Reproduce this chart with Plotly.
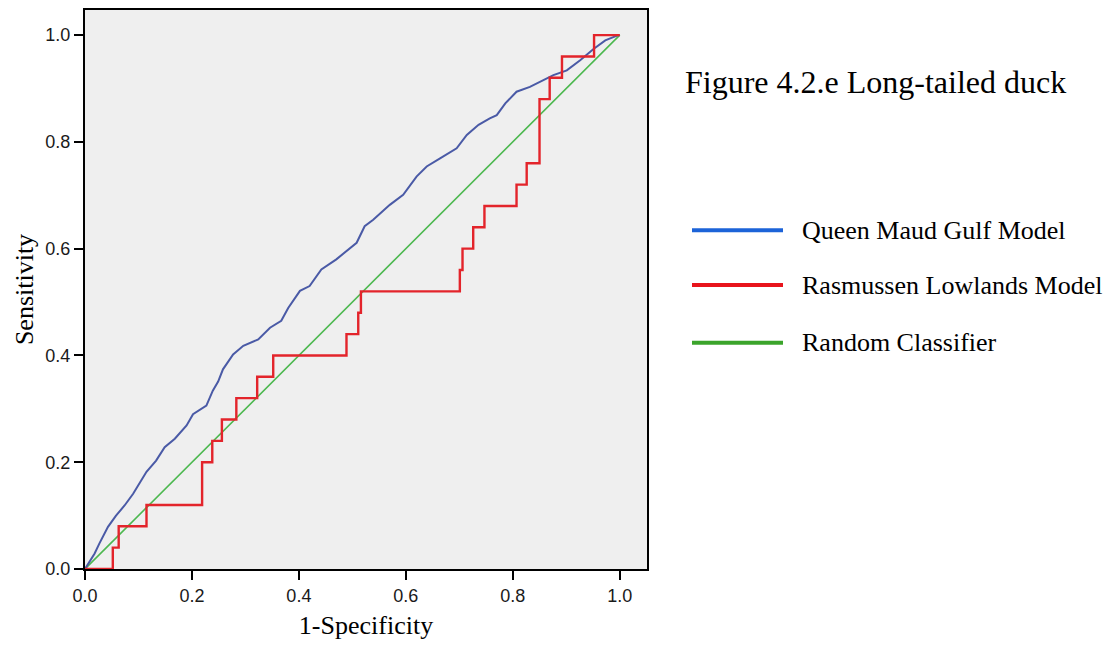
import plotly.graph_objects as go

# ---- data ----
qmg_fpr = [0.0, 0.018, 0.027, 0.043, 0.058, 0.074, 0.090, 0.105, 0.115, 0.133, 0.149, 0.168,
           0.190, 0.202, 0.227, 0.239, 0.249, 0.258, 0.277, 0.296, 0.324, 0.346, 0.367, 0.380,
           0.402, 0.420, 0.442, 0.470, 0.489, 0.508, 0.523, 0.539, 0.570, 0.595, 0.620, 0.639,
           0.664, 0.695, 0.714, 0.736, 0.757, 0.770, 0.786, 0.807, 0.832, 0.857, 0.876, 0.901,
           0.926, 0.951, 0.973, 0.995, 1.0]
qmg_tpr = [0.0, 0.029, 0.048, 0.079, 0.100, 0.119, 0.141, 0.166, 0.182, 0.203, 0.228, 0.244,
           0.269, 0.290, 0.306, 0.334, 0.351, 0.374, 0.402, 0.418, 0.430, 0.452, 0.465, 0.489,
           0.521, 0.530, 0.561, 0.580, 0.595, 0.611, 0.642, 0.654, 0.682, 0.701, 0.735, 0.754,
           0.769, 0.788, 0.813, 0.832, 0.844, 0.850, 0.872, 0.894, 0.903, 0.915, 0.925, 0.934,
           0.953, 0.974, 0.990, 0.999, 1.0]

rl_fpr = [0.0, 0.052, 0.052, 0.063, 0.063, 0.115, 0.115, 0.219, 0.219, 0.238, 0.238, 0.256,
          0.256, 0.283, 0.283, 0.322, 0.322, 0.352, 0.352, 0.489, 0.489, 0.511, 0.511, 0.516,
          0.516, 0.701, 0.701, 0.706, 0.706, 0.726, 0.726, 0.747, 0.747, 0.807, 0.807, 0.826,
          0.826, 0.850, 0.850, 0.869, 0.869, 0.892, 0.892, 0.952, 0.952, 1.0]
rl_tpr = [0.0, 0.0, 0.04, 0.04, 0.08, 0.08, 0.12, 0.12, 0.20, 0.20, 0.24, 0.24,
          0.28, 0.28, 0.32, 0.32, 0.36, 0.36, 0.40, 0.40, 0.44, 0.44, 0.48, 0.48,
          0.52, 0.52, 0.56, 0.56, 0.60, 0.60, 0.64, 0.64, 0.68, 0.68, 0.72, 0.72,
          0.76, 0.76, 0.88, 0.88, 0.92, 0.92, 0.96, 0.96, 1.0, 1.0]

rand_x = [0.0, 1.0]
rand_y = [0.0, 1.0]

tick_vals = [0.0, 0.2, 0.4, 0.6, 0.8, 1.0]
tick_text = ["0.0", "0.2", "0.4", "0.6", "0.8", "1.0"]

series_names = ["Queen Maud Gulf Model", "Rasmussen Lowlands Model", "Random Classifier"]
legend_colors = ["#1c63d8", "#e8141c", "#3ba42b"]
title_text = "Figure 4.2.e Long-tailed duck"

# ---- figure ----
fig = go.Figure()
fig.add_trace(go.Scatter(x=rand_x, y=rand_y, mode="lines",
                         line=dict(color="#4cb84f", width=1.6), name=series_names[2], showlegend=False))
fig.add_trace(go.Scatter(x=qmg_fpr, y=qmg_tpr, mode="lines",
                         line=dict(color="#4a5aa6", width=2), name=series_names[0], showlegend=False))
fig.add_trace(go.Scatter(x=rl_fpr, y=rl_tpr, mode="lines",
                         line=dict(color="#e3242b", width=2.4), name=series_names[1], showlegend=False))

axis_common = dict(tickvals=tick_vals, ticktext=tick_text, ticks="outside",
                   ticklen=9, tickwidth=2, tickcolor="black", showline=True, linecolor="black",
                   linewidth=2, mirror=True, showgrid=False, zeroline=False,
                   tickfont=dict(family="Liberation Sans", size=18, color="#1a1a1a"))

fig.update_xaxes(**axis_common, range=[0, 1.051],
                 title=dict(text="1-Specificity", standoff=11,
                            font=dict(family="Liberation Serif", size=26, color="black")))
fig.update_yaxes(**axis_common, range=[0, 1.047],
                 title=dict(text="Sensitivity", standoff=4,
                            font=dict(family="Liberation Serif", size=26, color="black")))

# page is offset by 8px; plot area: l=77, width 562, t=0, height 561 (figure coords)
def px_x(p):
    return (p - 85) / 562.0

def px_y(p):
    return (569 - p) / 561.0

annotations = [dict(text=title_text, xref="paper", yref="paper", x=px_x(683), y=px_y(80),
                    xanchor="left", yanchor="middle", showarrow=False,
                    font=dict(family="Liberation Serif", size=32, color="black"))]
shapes = []
row_y = [229, 284, 342]
for name, col, yy in zip(series_names, legend_colors, row_y):
    shapes.append(dict(type="line", xref="paper", yref="paper", x0=px_x(692), x1=px_x(783),
                       y0=px_y(yy), y1=px_y(yy), line=dict(color=col, width=4)))
    annotations.append(dict(text=name, xref="paper", yref="paper", x=px_x(800), y=px_y(yy),
                            xanchor="left", yanchor="middle", showarrow=False,
                            font=dict(family="Liberation Serif", size=26, color="black")))

fig.update_layout(width=1107, height=641, margin=dict(l=77, r=468, t=0, b=80),
                  paper_bgcolor="white", plot_bgcolor="#efefef",
                  annotations=annotations, shapes=shapes, showlegend=False)

fig.write_html("out.html")
